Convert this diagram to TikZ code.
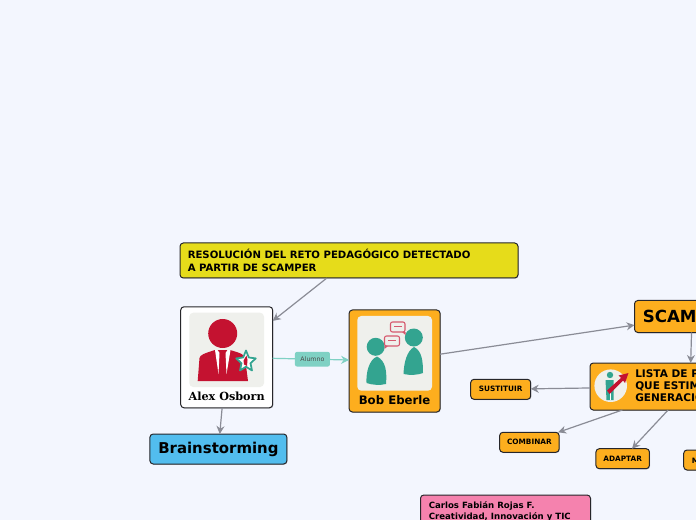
\documentclass[tikz,border=0pt]{standalone}
\usepackage{fontspec}
\setmainfont{DejaVu Sans}
\newfontfamily\serifbold{DejaVu Serif}
\usetikzlibrary{arrows.meta,shadows}
\definecolor{bgc}{HTML}{F3F6FE}
\definecolor{lineg}{HTML}{8A8C96}
\definecolor{edgec}{HTML}{26262A}
\definecolor{orangec}{HTML}{FDAE1E}
\definecolor{yellowc}{HTML}{E6DC1A}
\definecolor{bluec}{HTML}{52BDEE}
\definecolor{pinkc}{HTML}{F582AE}
\definecolor{tealc}{HTML}{7FD1C4}
\definecolor{teald}{HTML}{33A490}
\definecolor{redc}{HTML}{C41230}
\definecolor{panelc}{HTML}{EFF0EC}
\tikzset{
  x=0.75pt,y=-0.75pt,
  boxed/.style 2 args={draw=edgec,line width=0.75pt,rounded corners=2.5pt,minimum width=#1*0.75pt,minimum height=#2*0.75pt,inner sep=0pt,outer sep=0pt,font=\bfseries,text=black,
    drop shadow={shadow xshift=0.5pt,shadow yshift=-0.6pt,opacity=0.35}},
  conn/.style={draw=lineg,line width=0.9pt,-{Stealth[length=6pt,width=6pt]}},
  tealconn/.style={draw=tealc,line width=0.9pt,-{Stealth[length=6pt,width=6pt]}},
  tinybox/.style={boxed={#1}{20},fill=orangec,font=\bfseries\fontsize{5.5pt}{6pt}\selectfont},
  alumnobox/.style={fill=tealc,rounded corners=1.5pt,minimum width=26.2pt,minimum height=11pt,inner sep=0pt,font=\fontsize{4.7pt}{5pt}\selectfont,text=black!70},
  panel/.style={fill=panelc,rounded corners=3pt},
  bodytext/.style={anchor=west,align=left,inner sep=0pt,font=\bfseries},
}
\begin{document}
\begin{tikzpicture}
\useasboundingbox (0,0) rectangle (696,520);
\clip (0,0) rectangle (696,520);
\fill[bgc] (0,0) rectangle (696,520);

% nodes
\node[boxed={338}{35},fill=yellowc] (reto) at (349,260.5) {};
\node[boxed={92}{101},fill=white] (alex) at (226.7,357.3) {};
\node[boxed={91}{102},fill=orangec] (bob) at (394.6,361) {};
\node[boxed={137}{30},fill=bluec,font=\bfseries\fontsize{11.2pt}{13pt}\selectfont] (brain) at (218.4,449) {Brainstorming};
\node[boxed={115}{32},fill=orangec] (scamper) at (692,316.5) {};
\node[boxed={200}{47},fill=orangec] (lista) at (690,386.5) {};
\node[tinybox=60] (sust) at (500.7,389.3) {SUSTITUIR};
\node[tinybox=59.5] (comb) at (529.4,442.3) {COMBINAR};
\node[tinybox=53.5] (adap) at (622.7,458.7) {ADAPTAR};
\node[boxed={60}{20},fill=orangec] (modi) at (713.7,460) {};
\node[boxed={170}{60},fill=pinkc] (autor) at (505.5,525) {};

% connectors
\draw[conn] (reto) -- (alex);
\draw[conn] (alex) -- (brain);
\draw[tealconn] (alex) -- node[alumnobox,pos=0.52] (alumno) {Alumno} (bob);
\draw[conn] (bob) -- (scamper);
\draw[conn] (scamper) -- (lista);
\draw[conn] (lista) -- (sust);
\draw[conn] (lista) -- (comb);
\draw[conn] (lista) -- (adap);

% texts
\node[bodytext,font=\bfseries\fontsize{7.6pt}{9.2pt}\selectfont] (retotxt) at (187.5,260.5) {RESOLUCIÓN DEL RETO PEDAGÓGICO DETECTADO\\A PARTIR DE SCAMPER};
\node[inner sep=0pt,font=\serifbold\bfseries\fontsize{8.4pt}{10pt}\selectfont] (alextxt) at (226.7,396) {Alex Osborn};
\node[inner sep=0pt,font=\bfseries\fontsize{8.8pt}{11pt}\selectfont] (bobtxt) at (394.6,400) {Bob Eberle};
\node[bodytext,font=\bfseries\fontsize{12.5pt}{15pt}\selectfont] (scamtxt) at (642.5,316.5) {SCAM};
\node[bodytext,font=\bfseries\fontsize{7.9pt}{9.1pt}\selectfont] (listatxt) at (635,386) {LISTA DE P\\QUE ESTIM\\GENERACIÓ};
\node[bodytext,font=\bfseries\fontsize{5.5pt}{6pt}\selectfont] (modtxt) at (691.5,460.5) {M};
\node[bodytext,anchor=north west,font=\bfseries\fontsize{6.45pt}{8.2pt}\selectfont] (autortxt) at (428.5,501.5) {Carlos Fabián Rojas F.\\Creatividad, Innovación y TIC};

% Alex icon
\fill[panel] (189.3,312.7) rectangle (264,387);
\fill[redc] (222.7,333.5) circle[radius=14.5];
\fill[redc] (197.7,381) -- (199.5,358) .. controls (200,355) and (204,353.5) .. (215,350) -- (230,350) .. controls (240,353) and (244,354) .. (245,358) -- (248,381) -- cycle;
\fill[white] (217.5,350) -- (219.5,353) -- (218.5,374) -- (215,350) -- cycle;
\fill[white] (227.5,350) -- (225.5,353) -- (226.5,374) -- (230.5,350) -- cycle;
\fill[white,draw=teald,line width=1.3pt,line join=round]
  (246,350.5) -- (248.8,357.5) -- (255.8,358.4) -- (250.5,363.2) -- (252,370.5) -- (246,366.7) -- (240,370.5) -- (241.5,363.2) -- (236.2,358.4) -- (243.2,357.5) -- cycle;
\fill[redc] (246.5,355.5) -- (247.5,360) -- (247,366) -- (244,364.5) -- (243.5,360.5) -- cycle;

% Bob icon
\fill[panel] (357.3,316) rectangle (432,390.7);
\fill[teald] (375.7,346.8) circle[radius=9];
\fill[teald] (377,356.5) .. controls (369,360) and (366,372) .. (366.5,383) .. controls (372,385) and (380,385.5) .. (386,384) .. controls (387,372) and (386,361) .. (377,356.5) -- cycle;
\fill[teald] (413.8,337.5) circle[radius=9];
\fill[teald] (414,347) .. controls (407,351) and (404,362) .. (403.5,374) .. controls (410,375.5) and (418,375) .. (423,373) .. controls (423,361) and (422,351) .. (414,347) -- cycle;
\draw[redc!70,line width=0.8pt,fill=panelc,rounded corners=1.5pt] (390.5,322) rectangle (405,332);
\fill[redc!70] (402,332) -- (405.5,332) -- (405.5,335) -- cycle;
\draw[redc!70,line width=0.7pt] (394,326.9) -- (401.5,326.9);
\draw[redc!70,line width=0.8pt,fill=panelc,rounded corners=1.5pt] (384.5,336) rectangle (399.5,346);
\fill[redc!70] (384.5,345.5) -- (388,346) -- (384.5,349) -- cycle;
\draw[redc!70,line width=0.7pt] (388,340.9) -- (396,340.9);

% Lista icon
\fill[panelc] (610.7,385.7) circle[radius=16.3];
\fill[teald] (610,375) circle[radius=3.2];
\fill[teald] (605.5,380) -- (613.5,380) -- (613.5,400) -- (606.5,400) -- cycle;
\draw[white,line width=0.5pt] (610,390) -- (610,400);
\fill[redc] (607,390.5) -- (621,378) -- (618.5,375.5) -- (628.5,373) -- (625,383) -- (623,380.5) -- (609.5,394) -- cycle;
\end{tikzpicture}
\end{document}
